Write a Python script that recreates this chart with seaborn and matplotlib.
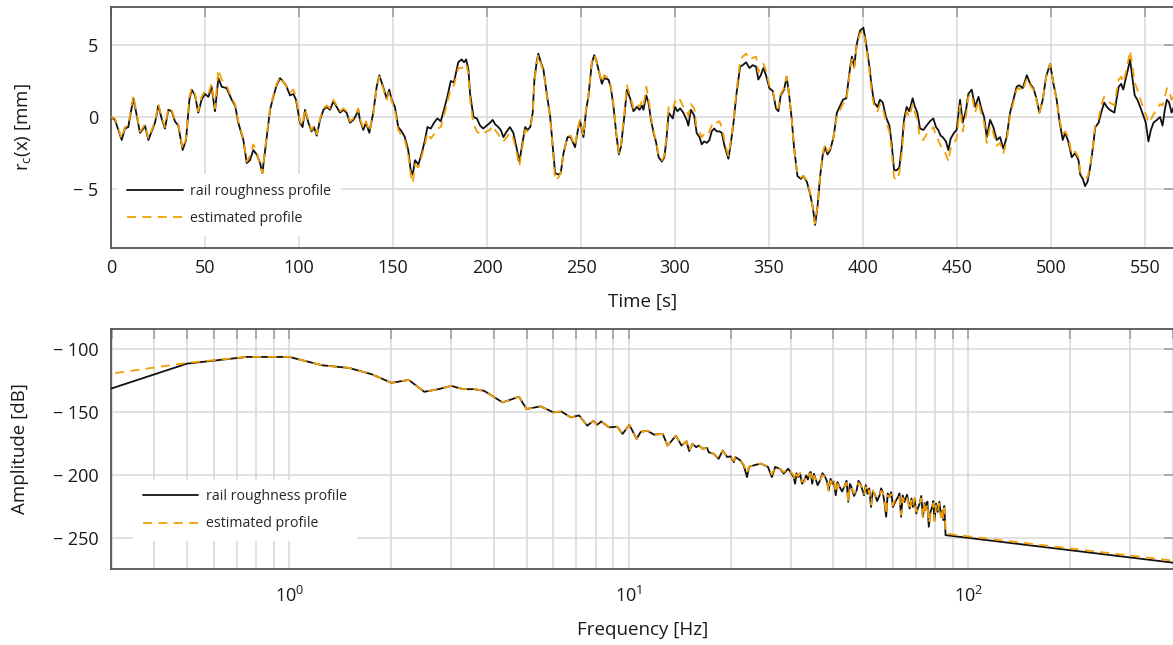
import numpy as np
import matplotlib
matplotlib.use("Agg")
import matplotlib.pyplot as plt
import seaborn as sns
from matplotlib.ticker import LogLocator, NullFormatter

# ---- top panel: roughness profile over time ----
time_s = [
    0.0, 2.1, 5.7, 7.4, 9.2, 10.1, 11.9, 13.7, 15.4, 17.2,
    18.1, 19.9, 21.6, 23.4, 25.2, 26.9, 28.7, 30.5, 32.3, 34.0,
    35.8, 38.1, 39.9, 41.7, 42.9, 44.7, 46.4, 48.2, 50.0, 51.8,
    53.5, 55.3, 57.1, 58.9, 61.5, 64.2, 66.0, 67.7, 70.4, 72.2,
    73.9, 75.7, 77.5, 79.3, 80.5, 82.8, 84.6, 86.3, 88.1, 89.9,
    91.3, 93.1, 94.3,
    95.2, 97.0, 98.4, 100.5, 101.9, 103.2, 105.0, 106.7, 108.0, 109.4,
    111.2, 113.0, 114.7, 116.5, 118.3, 120.0, 121.8, 123.6, 125.3, 127.1,
    128.9, 130.3, 131.5, 132.4, 134.2, 135.6, 137.4, 139.5, 141.3, 142.7,
    144.5, 146.6, 148.0, 149.3, 151.0, 152.8, 154.6, 156.3, 158.1, 159.4,
    160.5, 161.7, 163.5, 165.3, 167.0, 168.3, 170.1, 171.8, 173.6, 175.4,
    177.1, 178.9, 180.7, 182.4, 183.9, 184.7, 186.5, 187.8, 188.9, 190.1,
    191.0, 192.8, 194.6,
    196.3, 198.0, 199.8, 201.6, 203.0, 204.3, 206.0, 207.3, 208.7, 210.5,
    212.2, 214.0, 215.8, 217.2, 218.5, 220.3, 221.5, 223.0, 224.3, 225.2,
    226.4, 227.3, 228.6, 230.0, 231.8, 233.6, 235.0, 236.2, 238.0, 239.2,
    240.7, 242.8, 244.5, 246.8, 248.6, 249.5, 251.3, 252.7, 253.9, 255.7,
    257.0, 258.0, 259.3, 261.1, 262.3, 264.6, 265.8, 267.3, 268.7, 270.1,
    271.2, 273.0, 274.4, 276.1, 277.9, 279.7, 281.1, 282.4, 283.2, 284.7,
    285.9, 287.2, 288.6, 290.0, 291.3, 293.0, 294.3, 295.4, 296.6,
    298.8, 300.0, 301.3, 302.7, 304.4, 306.2, 307.1, 308.4, 310.2, 311.5,
    313.0, 314.2, 315.5, 316.9, 318.3, 319.5, 320.8, 322.2, 323.6, 324.9,
    326.1, 327.5, 328.4, 329.7, 331.1, 332.5, 334.6, 336.0, 337.8, 339.6,
    341.3, 343.1, 344.3, 345.6, 347.0, 348.4, 350.2, 352.0, 353.7, 355.0,
    356.2, 358.0, 359.4, 360.8, 362.1, 363.3, 365.1, 366.9, 368.3, 370.1,
    371.8, 373.3, 374.5, 375.8, 377.2, 378.6, 379.8, 381.1, 382.5, 384.3,
    386.1, 387.5, 389.3, 391.1, 393.2, 394.1, 395.3, 396.7,
    398.4, 400.2, 401.6, 403.4, 404.6, 405.9, 407.7, 409.0, 410.5, 412.2,
    414.0, 415.2, 416.5, 417.9, 419.3, 420.6, 421.8, 423.2, 424.6, 426.4,
    427.6, 428.9, 430.3, 432.1, 433.8, 435.6, 437.4, 438.8, 440.0, 441.3,
    442.4, 444.1, 445.4, 446.6, 448.4, 449.8, 451.6, 453.0, 454.8, 456.0,
    457.8, 459.6, 461.4, 463.1, 464.4, 465.8, 467.6, 469.3, 471.1,
    472.9, 474.6, 476.4, 478.2, 480.0, 481.7, 483.1, 484.9, 487.1, 488.9,
    490.6, 492.0, 493.8, 495.6, 497.4, 499.5, 501.3, 503.0, 504.4, 506.2,
    507.5, 509.2, 511.0, 512.8, 514.6, 515.5, 516.9, 518.1, 519.4, 520.8,
    522.3, 523.5, 525.3, 527.1, 528.3, 529.7, 531.2, 532.4, 533.7, 534.8,
    536.0, 537.3, 538.4, 539.6, 540.9, 542.0, 543.2, 544.5, 545.9, 547.4,
    549.1, 550.4, 551.8, 553.1, 554.5, 556.3, 558.0, 559.3, 560.5, 561.6,
    562.8, 564.1, 565.3,
]

rail_mm = [
    0.0, -0.2, -1.6, -0.8, -0.7, 0.0, 1.3, 0.1, -1.1, -0.8,
    -0.6, -1.6, -1.0, -0.4, 0.8, -0.1, -0.8, 0.5, 0.4, -0.3,
    -0.6, -2.3, -1.6, 1.2, 1.9, 1.5, 0.3, 1.2, 1.6, 1.4,
    2.1, 0.4, 2.7, 2.1, 2.0, 1.2, 0.8, -0.4, -1.6, -3.2,
    -3.0, -2.3, -2.6, -3.2, -3.9, -1.4, 0.5, 1.4, 2.2, 2.7,
    2.5, 2.2, 1.8,
    1.5, 1.6, 1.2, -0.4, -0.7, 0.5, -0.4, -1.0, -0.7, -1.3,
    -0.2, 0.5, 0.7, 0.5, 1.1, 0.7, 0.3, 0.5, 0.3, -0.4,
    -0.2, 0.1, 0.5, -0.2, -0.9, -0.4, -1.1, 0.3, 2.1, 2.9,
    2.2, 1.3, 1.9, 1.2, 0.7, -0.7, -1.0, -1.4, -2.3, -3.7,
    -4.0, -3.0, -3.3, -2.5, -1.6, -0.7, -0.8, -0.4, -0.1, -0.3,
    0.5, 1.4, 2.5, 2.4, 3.3, 3.8, 4.0, 3.8, 4.0, 3.3,
    1.6, 0.0, -0.1,
    -0.6, -0.8, -0.6, -0.4, -0.2, -0.5, -0.7, -0.9, -1.4, -1.0,
    -0.7, -1.1, -2.2, -3.1, -2.1, -0.7, -0.9, -0.7, 0.3, 2.6,
    3.8, 4.4, 3.8, 3.3, 1.6, 0.0, -2.1, -3.9, -4.0, -3.9,
    -2.5, -1.4, -1.4, -2.1, -0.7, -0.3, -1.4, 0.5, 1.4, 3.7,
    4.3, 4.0, 3.3, 2.3, 2.7, 2.6, 2.1, 0.7, -1.1, -2.6,
    -2.1, 0.0, 1.9, 1.3, 0.4, 0.7, 0.5, 0.8, 0.5, 1.5,
    1.0, -0.2, -1.1, -1.8, -2.8, -3.1, -2.8, -1.6, 0.3,
    -0.1, 0.7, 0.4, 0.6, 0.3, -0.2, -0.6, 0.5, 0.1, -1.1,
    -1.4, -1.9, -1.7, -1.8, -1.6, -1.0, -0.8, -1.0, -1.0, -1.1,
    -1.9, -2.5, -2.9, -1.8, -0.4, 1.4, 3.5, 3.6, 3.8, 3.4,
    3.6, 3.5, 2.6, 2.9, 3.4, 2.9, 2.0, 1.8, 0.6, 0.4,
    1.5, 1.9, 2.8, 1.4, -0.2, -2.1, -4.1, -4.3, -4.1, -4.5,
    -5.3, -6.3, -7.5, -6.2, -4.1, -2.6, -2.1, -2.6, -2.3, -1.4,
    0.3, 0.7, 1.2, 1.3, 3.5, 4.2, 3.5, 5.1,
    6.0, 6.2, 5.1, 3.5, 2.1, 1.0, 0.7, 1.2, 1.0, 0.0,
    -0.6, -1.8, -3.7, -3.7, -3.5, -2.1, -0.2, 0.7, 0.4, 1.3,
    0.7, 0.3, -0.8, -0.9, -0.6, -0.3, -0.1, -0.7, -0.9, -1.3,
    -1.4, -1.7, -2.3, -1.5, -1.1, -0.9, 1.2, -0.4, 0.5, 1.6,
    1.9, 0.7, 1.4, 0.5, 0.0, -1.4, -0.2, -0.7, -1.6,
    -1.4, -2.2, -1.4, 0.3, 1.2, 2.1, 2.2, 2.0, 2.9, 2.3,
    2.0, 1.4, 0.3, 1.2, 2.8, 3.7, 2.3, 1.2, -0.2, -1.6,
    -1.1, -1.7, -2.8, -2.5, -3.0, -4.0, -4.3, -4.8, -4.5, -3.5,
    -2.1, -0.7, -0.4, 0.5, 1.0, 0.7, 0.5, 0.4, 0.3, 1.2,
    2.1, 2.3, 1.9, 2.6, 3.3, 4.0, 2.8, 1.5, 1.2, 0.7,
    0.1, -0.4, -1.7, -0.9, -0.4, -0.2, 0.0, -0.6, 0.5, 1.2,
    1.0, 0.3, 0.7,
]

est_mm = [
    0.0, -0.1, -1.5, -0.7, -0.6, 0.1, 1.5, 0.2, -1.0, -0.7,
    -0.5, -1.5, -0.9, -0.3, 0.9, 0.0, -0.7, 0.6, 0.5, -0.2,
    -0.5, -2.2, -1.5, 1.4, 2.0, 1.6, 0.4, 1.4, 1.8, 1.6,
    2.3, 0.6, 3.3, 2.6, 2.2, 1.3, 0.9, -0.3, -1.5, -3.1,
    -2.7, -1.9, -2.4, -3.4, -3.9, -1.3, 0.6, 1.5, 2.3, 2.8,
    2.5, 2.2, 1.8,
    1.7, 1.9, 1.4, -0.3, -0.6, 0.6, -0.3, -0.9, -0.6, -1.2,
    -0.1, 0.6, 0.8, 0.6, 1.2, 0.8, 0.4, 0.6, 0.4, -0.3,
    -0.1, 0.2, 0.6, -0.1, -0.8, -0.3, -1.0, 0.2, 2.0, 2.8,
    2.1, 1.2, 1.8, 1.1, 0.5, -0.9, -1.3, -1.6, -2.6, -4.0,
    -4.6, -3.3, -3.5, -2.7, -1.9, -1.1, -1.5, -1.2, -0.8, -0.7,
    0.1, 1.0, 2.0, 2.2, 3.0, 3.4, 3.4, 3.5, 3.7, 3.0,
    1.2, -0.5, -1.0,
    -1.2, -1.2, -1.0, -0.9, -0.6, -0.9, -1.2, -1.5, -1.7, -1.4,
    -1.1, -1.5, -2.5, -3.4, -2.3, -0.9, -1.0, -0.8, 0.2, 2.5,
    3.7, 4.3, 3.7, 3.2, 1.5, -0.1, -2.2, -4.4, -4.2, -3.9,
    -2.6, -1.3, -1.3, -2.0, -0.6, -0.2, -1.3, 0.6, 1.5, 3.8,
    4.3, 4.0, 3.3, 2.4, 2.9, 2.7, 2.2, 0.8, -1.0, -2.5,
    -2.0, 0.2, 2.2, 1.5, 0.6, 0.9, 0.7, 1.1, 0.8, 2.1,
    1.3, 0.0, -1.0, -1.7, -2.7, -3.0, -2.7, -1.4, 0.7,
    0.5, 1.1, 0.9, 1.2, 0.7, 0.4, 0.1, 0.9, 0.6, -0.8,
    -1.0, -1.4, -1.2, -1.3, -1.0, -0.6, -0.3, -0.4, -0.3, -0.7,
    -1.5, -2.3, -2.7, -1.6, -0.3, 1.6, 3.9, 4.2, 4.4, 4.0,
    4.1, 4.2, 3.1, 3.5, 3.7, 3.2, 2.2, 1.8, 0.7, 0.6,
    1.6, 2.0, 2.8, 1.4, -0.2, -2.1, -4.0, -4.2, -4.1, -4.4,
    -5.2, -6.3, -7.4, -6.2, -4.1, -2.5, -1.9, -2.4, -2.2, -1.4,
    0.1, 0.4, 0.9, 1.1, 3.4, 4.0, 3.4, 5.0,
    5.8, 6.0, 4.9, 3.2, 1.7, 0.7, 0.4, 0.9, 0.6, -0.3,
    -1.0, -2.3, -4.2, -4.4, -3.9, -2.5, -0.6, 0.4, 0.0, 0.9,
    0.3, -0.2, -1.5, -1.6, -1.2, -1.0, -0.7, -1.3, -1.6, -2.0,
    -2.2, -2.6, -3.1, -2.2, -1.8, -1.5, 0.8, -1.0, 0.1, 1.4,
    1.6, 0.3, 1.1, 0.1, -0.4, -1.8, -0.6, -1.1, -2.0,
    -1.8, -2.5, -1.7, 0.1, 1.0, 1.9, 2.0, 1.8, 2.7, 2.2,
    1.9, 1.3, 0.3, 1.2, 2.8, 3.7, 2.3, 1.2, -0.1, -1.2,
    -1.0, -1.4, -2.6, -2.4, -2.8, -3.8, -4.0, -4.2, -4.2, -3.4,
    -2.0, -0.5, -0.1, 1.0, 1.4, 1.2, 1.0, 0.9, 0.8, 1.7,
    2.6, 2.8, 2.4, 3.0, 3.8, 4.6, 3.6, 2.4, 1.9, 1.3,
    0.6, 0.2, -0.4, -0.2, 0.2, 0.5, 0.9, 0.8, 1.4, 2.0,
    1.9, 1.2, 1.5,
]

# ---- bottom panel: amplitude spectrum ----
freq_hz = [
    0.25, 0.5, 0.75, 1.0, 1.25, 1.5, 1.75, 2.0, 2.25, 2.5,
    2.75, 3.0, 3.25, 3.5, 3.75, 4.0, 4.25, 4.75, 5.0, 5.5,
    6.0, 6.33, 6.75, 7.14, 7.55, 7.87, 8.07, 8.3, 8.75, 9.25,
    9.59, 10.04, 10.55, 10.85, 11.35, 11.87, 12.6, 13.0, 13.35, 13.77,
    14.3, 14.8, 15.06, 15.4, 15.8, 16.1, 16.5, 17.0, 17.2, 17.8,
    18.4, 18.9, 19.5, 19.95, 20.4, 20.6, 21.3, 21.8, 22.3, 22.6,
    23.4, 24.5, 25.7, 26.4, 27.0, 28.0, 28.6, 29.5,
    30.6, 30.9, 31.2, 31.6, 32.0, 32.4, 32.9, 33.3, 33.7, 34.0,
    34.35, 34.7, 35.1, 35.5, 36.0, 36.6, 37.2, 37.9, 38.3, 38.8,
    39.3, 39.8, 40.2, 40.7, 41.2, 41.8, 42.5, 43.3, 43.8, 44.3,
    44.8, 45.3, 46.1, 46.9, 47.5, 48.1, 48.7, 49.3, 49.9, 50.5,
    51.1, 51.7, 52.3, 53.0, 53.9, 54.8, 55.4, 56.0, 56.6, 57.3,
    57.9, 58.6, 59.3, 60.0, 61.0, 62.1, 62.7, 63.4, 64.1, 64.9,
    66.0, 67.2, 68.0, 68.7, 69.5, 70.3, 71.1, 71.9, 72.7, 73.5,
    74.4, 75.2, 75.8, 76.5, 77.4, 78.3, 78.9, 79.5, 80.4, 81.3,
    82.2, 83.1, 83.7, 84.4, 85.0, 85.5, 85.7, 410.0,
]

rail_db = [
    -138.4, -111.8, -106.5, -106.5, -113.1, -115.2, -120.2, -127.0, -124.7, -134.1,
    -132.0, -129.4, -132.0, -132.0, -133.3, -138.0, -142.5, -138.0, -147.7, -145.6,
    -150.4, -149.7, -154.3, -152.8, -160.9, -157.0, -160.2, -157.6, -162.2, -161.7,
    -167.4, -160.2, -171.4, -165.7, -164.9, -168.0, -167.4, -176.6, -173.2, -168.8,
    -176.6, -173.2, -181.0, -175.3, -177.9, -176.6, -179.2, -178.4, -181.9, -183.2,
    -187.1, -180.5, -185.7, -185.2, -189.8, -185.7, -188.3, -192.2, -201.6, -193.5,
    -192.2, -190.9, -193.5, -201.6, -193.5, -195.4, -198.8, -194.9,
    -201.6, -206.8, -198.5, -201.6, -199.5, -206.8, -204.0, -200.3, -203.5, -198.8,
    -197.5, -206.8, -199.0, -202.9, -208.0, -204.2, -198.5, -201.6, -204.5, -212.0,
    -203.0, -206.8, -205.0, -216.0, -205.5, -209.4, -213.0, -208.1, -204.5, -221.2,
    -207.0, -209.4, -216.5, -212.0, -204.5, -206.8, -211.0, -216.0, -208.0, -214.7,
    -210.5, -225.2, -213.5, -214.7, -220.5, -216.0, -210.5, -213.4, -221.0, -233.0,
    -214.5, -217.3, -213.5, -225.2, -221.0, -217.3, -214.5, -233.0, -216.0, -221.2,
    -215.5, -226.5, -218.5, -225.2, -219.5, -230.4, -226.0, -222.5, -216.5, -233.0,
    -222.0, -227.8, -221.0, -240.9, -229.0, -225.2, -220.5, -235.6, -222.5, -229.1,
    -221.0, -233.0, -228.0, -235.6, -224.5, -238.8, -247.5, -269.6,
]

est_db = [
    -122.7, -111.2, -106.5, -106.5, -113.1, -115.2, -120.2, -127.0, -124.7, -134.1,
    -132.0, -129.4, -132.0, -132.0, -133.3, -138.0, -142.5, -138.0, -147.7, -145.6,
    -150.4, -149.7, -154.3, -152.8, -160.9, -157.0, -160.2, -157.6, -162.2, -161.7,
    -167.4, -160.2, -171.4, -165.7, -164.9, -168.0, -167.4, -176.6, -173.2, -168.8,
    -176.6, -173.2, -180.5, -175.3, -177.9, -176.6, -179.2, -178.4, -181.0, -183.2,
    -186.5, -180.5, -185.7, -185.2, -188.8, -185.7, -188.3, -191.5, -198.5, -193.5,
    -192.2, -190.9, -193.5, -199.5, -193.5, -195.4, -197.6, -194.9,
    -200.2, -204.5, -199.5, -200.8, -198.0, -205.0, -205.5, -200.3, -202.0, -198.8,
    -199.0, -205.5, -200.5, -202.9, -206.0, -204.2, -200.0, -201.6, -203.0, -213.5,
    -204.5, -206.8, -203.5, -214.0, -207.0, -209.4, -211.5, -208.1, -206.0, -222.0,
    -208.5, -209.4, -214.5, -212.0, -206.0, -207.8, -209.5, -215.0, -209.5, -214.7,
    -212.0, -223.5, -212.0, -215.2, -218.5, -216.0, -212.5, -213.4, -219.0, -231.0,
    -216.0, -217.3, -215.0, -224.0, -219.0, -217.3, -216.5, -231.5, -218.0, -221.2,
    -217.5, -227.5, -220.0, -225.2, -218.0, -229.0, -227.5, -222.5, -218.5, -234.0,
    -221.0, -227.8, -223.0, -238.0, -231.0, -225.2, -222.0, -236.5, -224.0, -229.1,
    -222.5, -233.0, -226.5, -234.0, -226.0, -237.5, -246.3, -268.0,
]

assert len(time_s) == len(rail_mm) == len(est_mm)
assert len(freq_hz) == len(rail_db) == len(est_db)

BLACK = "#111111"
ORANGE = "#F29F05"
GRID = "#d9d9d9"
TICK = "#9a9a9a"
SPINE = "#555555"
TXT = "#1a1a1a"

sns.set_theme(style="white")
plt.rcParams["font.family"] = ["Open Sans", "DejaVu Sans"]
plt.rcParams["mathtext.fontset"] = "custom"
plt.rcParams["mathtext.rm"] = "Open Sans"
plt.rcParams["mathtext.it"] = "Open Sans"
plt.rcParams["axes.unicode_minus"] = True

W, H = 1173, 645
fig = plt.figure(figsize=(W / 100, H / 100), dpi=100)
left = 111 / W
width = (1174 - 111) / W
ax1 = fig.add_axes([left, 1 - 248 / H, width, 241 / H])
ax2 = fig.add_axes([left, 1 - 569 / H, width, 240 / H])

dash = (0, (5, 3.5))

# top panel
sns.lineplot(x=time_s, y=rail_mm, ax=ax1, color=BLACK, lw=1.3,
             estimator=None, sort=False, label="rail roughness profile", zorder=3)
sns.lineplot(x=time_s, y=est_mm, ax=ax1, color=ORANGE, lw=1.3, linestyle=dash,
             estimator=None, sort=False, label="estimated profile", zorder=4)
ax1.set_xlim(0, 565.4)
ax1.set_ylim(-9.1, 7.64)
ax1.set_xticks(list(range(0, 551, 50)))
ax1.set_yticks([-5, 0, 5], ["\u2212 5", "0", "5"])

# bottom panel
sns.lineplot(x=freq_hz, y=rail_db, ax=ax2, color=BLACK, lw=1.3,
             estimator=None, sort=False, label="rail roughness profile", zorder=3)
sns.lineplot(x=freq_hz, y=est_db, ax=ax2, color=ORANGE, lw=1.3, linestyle=dash,
             estimator=None, sort=False, label="estimated profile", zorder=4)
ax2.set_xscale("log")
ax2.set_xlim(0.2986, 403.6)
ax2.set_ylim(-274.3, -84.4)
ax2.xaxis.set_major_locator(LogLocator(base=10, numticks=10))
ax2.xaxis.set_minor_locator(LogLocator(base=10, subs=np.arange(2, 10), numticks=20))
ax2.xaxis.set_minor_formatter(NullFormatter())
ax2.set_yticks([-100, -150, -200, -250],
               ["\u2212 100", "\u2212 150", "\u2212 200", "\u2212 250"])

for ax in (ax1, ax2):
    ax.set_axisbelow(True)
    ax.grid(True, which="major", color=GRID, lw=1.1)
    for s in ax.spines.values():
        s.set_color(SPINE)
        s.set_linewidth(1.3)
    ax.tick_params(which="both", direction="in", top=True, right=True,
                   length=7, width=1.1, color=TICK, labelsize=13,
                   labelcolor=TXT)
    ax.tick_params(axis="y", pad=9)
ax1.tick_params(axis="x", pad=8)
ax2.tick_params(axis="x", pad=12)
ax2.grid(True, which="minor", axis="x", color=GRID, lw=1.1)

ax1.set_xlabel("Time [s]", fontsize=13.5, color=TXT)
ax1.set_ylabel(r"r$_\mathregular{c}$(x) [mm]", fontsize=13.5, color=TXT)
ax2.set_xlabel("Frequency [Hz]", fontsize=13.5, color=TXT)
ax2.set_ylabel("Amplitude [dB]", fontsize=13.5, color=TXT)
ax1.xaxis.set_label_coords(0.5, -0.185)
ax2.xaxis.set_label_coords(0.5, -0.215)
ax1.yaxis.set_label_coords(-0.073, 0.5)
ax2.yaxis.set_label_coords(-0.077, 0.5)

leg_kw = dict(loc="lower left", frameon=True, fancybox=False, framealpha=1,
              edgecolor="none", facecolor="white", fontsize=10.2,
              handlelength=3.9, handletextpad=0.55, labelspacing=0.85,
              borderpad=0.7, borderaxespad=0)
ax1.legend(bbox_to_anchor=(0.006, 0.05), **leg_kw)
ax2.legend(bbox_to_anchor=(0.021, 0.115), **leg_kw)

fig.savefig("out.png", dpi=100)
